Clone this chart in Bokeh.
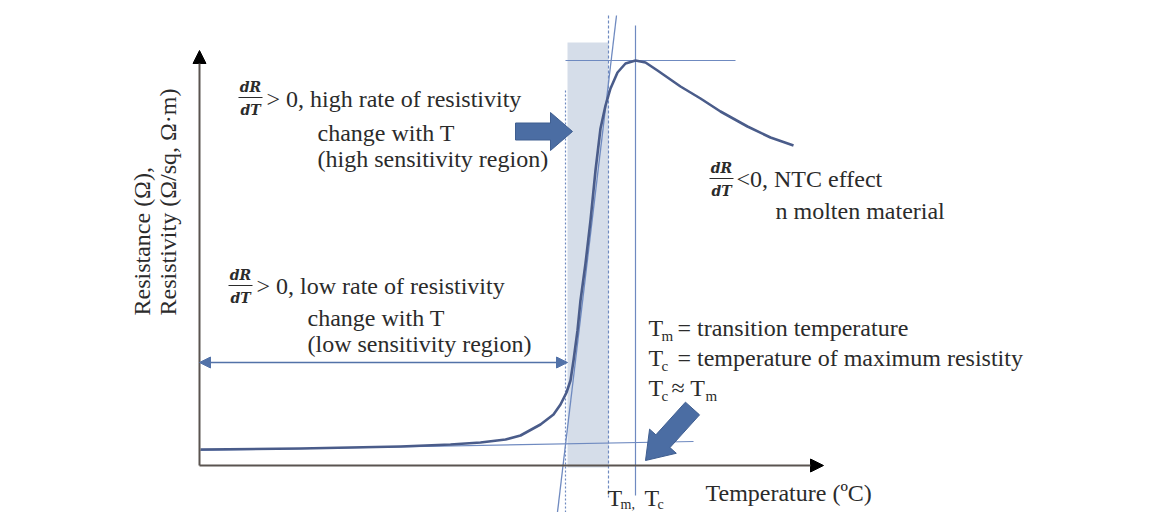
import numpy as np
from bokeh.plotting import figure
from bokeh.models import Range1d, Arrow, NormalHead
from bokeh.core.properties import value
from bokeh.embed import file_html
from bokeh.resources import INLINE

# ---- data (schematic units: temperature along x, resistance along y) ----
temperature = [1, 101, 201, 251, 281, 306, 321, 341, 354, 361, 367, 371, 374, 378, 381,
               386, 391, 396, 401, 406, 411, 418, 426, 436, 446, 458, 481, 501, 521, 548, 571, 594]
resistance = [16, 17, 19, 21, 23, 26, 30, 41, 51, 61, 73, 85, 105, 135, 165,
              202, 245, 295, 337, 360, 377, 393, 402, 405, 403, 395, 379, 367, 354, 339, 328, 320]
T_onset = 366          # left dotted line
T_m = 409              # transition temperature (dashed line, right edge of band)
T_c = 436              # temperature of maximum resistivity
band = [368, 409]      # high-sensitivity band
R_max = 405
steep_tangent_T = [357, 417]
steep_tangent_R = [-55, 450]
base_tangent_T = [1, 494]
base_tangent_R = [15, 24]
max_line_T = [366, 536]
x_axis_end = 624
y_axis_end = 415

FONT = value("Liberation Serif")
TXT = "#2b2b2b"
CURVE = "#4a5c8a"
THIN = "#6f8ac0"


def px(x):  # reference pixel -> schematic coordinate
    return x - 199


def py(y):
    return 465 - y


p = figure(width=1150, height=512, x_range=Range1d(-199, 951), y_range=Range1d(-47, 465),
           output_backend="svg", toolbar_location=None, min_border=0,
           x_axis_type=None, y_axis_type=None)
p.grid.visible = False
p.outline_line_color = None
p.background_fill_color = "white"

# shaded band
p.quad(left=[band[0]], right=[band[1]], bottom=[py(467)], top=[py(42)],
       fill_color="#d5dde9", line_color=None)

# dotted / dashed verticals
p.line([T_onset, T_onset], [py(90), py(520)], line_color=THIN, line_width=1.2, line_dash="2 2")
p.line([T_m, T_m], [py(15), py(497)], line_color=THIN, line_width=1.2, line_dash="3 2")
# solid vertical at Tc
p.line([T_c, T_c], [py(25), py(495)], line_color=THIN, line_width=1.2)
# tangents
p.line(steep_tangent_T, steep_tangent_R, line_color=THIN, line_width=1.3)
p.line(max_line_T, [R_max, R_max], line_color=THIN, line_width=1.2)
p.line(base_tangent_T, base_tangent_R, line_color=THIN, line_width=1.2)

# the curve
p.line(temperature, resistance, line_color=CURVE, line_width=2.6, line_join="round")

# axes
p.add_layout(Arrow(end=NormalHead(size=13, fill_color="black", line_color="black"),
                   x_start=0, y_start=0, x_end=x_axis_end, y_end=0,
                   line_color="#5a5450", line_width=2))
p.add_layout(Arrow(end=NormalHead(size=13, fill_color="black", line_color="black"),
                   x_start=0, y_start=0, x_end=0, y_end=y_axis_end,
                   line_color="#5a5450", line_width=2))

# double-headed arrow (low sensitivity region)
DA = "#5272a8"
p.add_layout(Arrow(start=NormalHead(size=11, fill_color=DA, line_color=DA),
                   end=NormalHead(size=11, fill_color=DA, line_color=DA),
                   x_start=0, y_start=py(362), x_end=band[0], y_end=py(362),
                   line_color=DA, line_width=1.5))


def block_arrow(tail, tip, bw, hw, hl):
    tail = np.array(tail, float)
    tip = np.array(tip, float)
    d = tip - tail
    u = d / np.linalg.norm(d)
    n = np.array([-u[1], u[0]])
    base = tip - u * hl
    pts = [tail + n * bw, base + n * bw, base + n * hw, tip,
           base - n * hw, base - n * bw, tail - n * bw]
    return [q[0] for q in pts], [q[1] for q in pts]


xs1, ys1 = block_arrow((px(515), py(131)), (px(572), py(131)), 8.5, 19, 22)
xs2, ys2 = block_arrow((px(692), py(408)), (px(645), py(460)), 9.5, 18, 26)
p.patches([xs1, xs2], [ys1, ys2], fill_color="#4b6da3", line_color="#3f5e90", line_width=1)

# ---- texts ----
def txt(x, y, s, size="24px", align="left", style="normal", angle=0.0):
    p.text(x=[px(x)], y=[py(y)], text=[s], text_font=FONT, text_font_size=size,
           text_color=TXT, text_align=align, text_baseline="middle",
           text_font_style=style, angle=angle)


def frac(cx, cy_top, cy_line, cy_bot, half):
    p.text(x=[px(cx), px(cx)], y=[py(cy_top), py(cy_bot)], text=["dR", "dT"],
           text_font=value("DejaVu Serif"), text_font_size="14px", text_color=TXT,
           text_align="center", text_baseline="middle", text_font_style="bold italic")
    p.line([px(cx - half), px(cx + half)], [py(cy_line), py(cy_line)],
           line_color=TXT, line_width=1)


frac(250, 86, 97, 109, 12)
txt(266, 98, "> 0, high rate of resistivity")
txt(317, 132, "change with T")
txt(317, 158, "(high sensitivity region)")

frac(240, 274, 285, 297, 12)
txt(256, 285, "> 0, low rate of resistivity")
txt(307, 317, "change with T")
txt(307, 343, "(low sensitivity region)")

frac(721, 167, 178, 190, 12)
txt(736, 178, "<0, NTC  effect")
txt(775, 210, "n molten material")

# Tm / Tc definitions
txt(648, 327, "T")
txt(661, 335, "m", size="15px")
txt(677, 327, "= transition temperature")
txt(648, 357, "T")
txt(661, 365, "c", size="15px")
txt(677, 357, "= temperature of maximum resistity")
txt(648, 387, "T")
txt(661, 395, "c", size="15px")
txt(671, 387, "\u2248 T")
txt(705, 395, "m", size="15px")

txt(705, 492, "Temperature (\u00baC)")
txt(607, 497, "T")
txt(620, 504, "m,", size="14px")
txt(644, 497, "T")
txt(657, 504, "c", size="14px")

# y-axis label (rotated)
txt(141, 315, "Resistance (\u03a9),", size="24px", angle=np.pi / 2)
txt(167, 315, "Resistivity (\u03a9/sq, \u03a9\u00b7m)", size="24px", angle=np.pi / 2)

open("out.html", "w").write(file_html(p, INLINE))
